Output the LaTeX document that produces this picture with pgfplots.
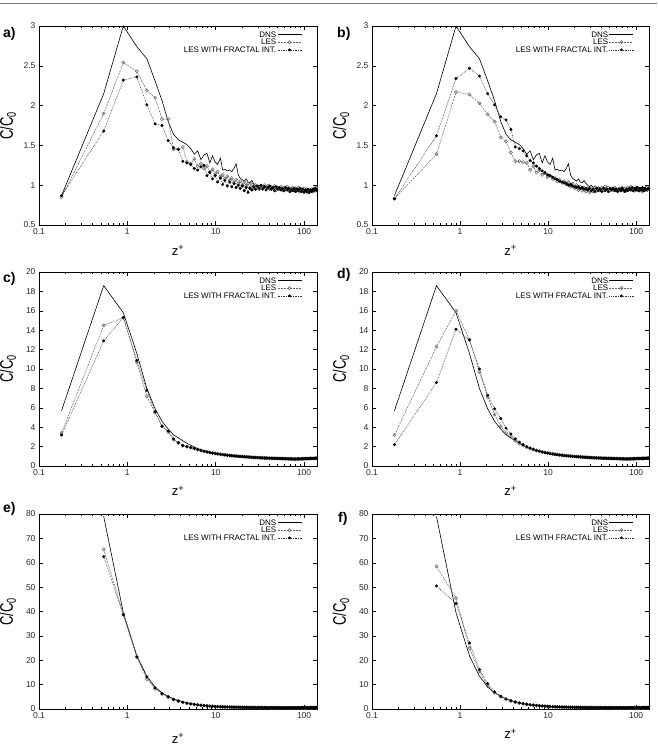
\documentclass[border=0pt]{standalone}
\usepackage{fontspec}
\setmainfont{Liberation Sans}
\usepackage{pgfplots}
\usepackage{pgfplotstable}
\pgfplotsset{compat=1.18}

% z+  DNS  LES(a)  fractal(a)  LES(b)  fractal(b)
\pgfplotstableread{
z dns lesa fraa lesb frab
0.18 0.87 0.85 0.87 0.83 0.83
0.54 2.15 1.90 1.68 1.39 1.62
0.90 3.00 2.54 2.32 2.17 2.34
1.28 2.74 2.43 2.36 2.14 2.47
1.66 2.59 2.19 2.01 2.03 2.37
2.06 2.31 2.10 1.77 1.89 2.15
2.47 2.06 1.83 1.75 1.80 2.01
2.90 1.80 1.83 1.56 1.60 1.86
3.33 1.64 1.45 1.47 1.55 1.82
3.78 1.57 1.45 1.45 1.41 1.70
4.24 1.54 1.48 1.30 1.30 1.48
4.72 1.51 1.29 1.28 1.30 1.46
5.21 1.46 1.27 1.26 1.29 1.43
5.72 1.39 1.33 1.21 1.28 1.37
6.25 1.43 1.24 1.19 1.19 1.31
6.80 1.32 1.27 1.23 1.24 1.28
7.37 1.38 1.21 1.25 1.16 1.24
7.96 1.40 1.24 1.12 1.19 1.21
8.57 1.28 1.17 1.16 1.13 1.18
9.20 1.37 1.20 1.08 1.15 1.16
9.86 1.29 1.14 1.12 1.10 1.13
10.5 1.26 1.17 1.04 1.12 1.12
11.3 1.34 1.11 1.09 1.08 1.10
12.0 1.19 1.13 1.01 1.09 1.08
12.7 1.20 1.08 1.06 1.05 1.07
13.5 1.18 1.11 0.99 1.07 1.05
14.4 1.19 1.06 1.04 1.03 1.04
15.2 1.17 1.09 0.98 1.05 1.03
16.1 1.21 1.04 1.02 1.01 1.02
17.0 1.27 1.07 0.97 1.04 1.00
18.0 1.13 1.02 1.00 0.98 1.01
18.9 1.09 1.05 0.96 1.02 0.99
20.0 1.07 1.00 0.99 0.96 0.98
21.0 1.05 1.04 0.93 1.00 0.97
22.1 1.08 0.99 0.97 0.94 0.98
23.2 1.04 1.02 0.91 0.98 0.96
24.4 1.03 0.97 0.96 0.93 0.97
25.6 1.06 1.01 0.94 0.97 0.95
26.9 1.02 0.96 0.98 0.92 0.96
28.2 1.00 1.00 0.95 0.96 0.94
29.6 0.98 0.98 0.99 0.91 0.96
31.0 1.00 0.95 0.96 0.95 0.93
32.5 0.97 0.99 1.00 0.92 0.95
34.0 0.99 0.97 0.95 0.97 0.92
35.6 0.96 1.00 0.98 0.93 0.96
37.2 0.98 0.96 0.94 0.96 0.93
38.9 0.97 0.99 0.97 0.94 0.95
40.7 0.95 0.95 0.99 0.97 0.92
42.5 0.98 0.98 0.95 0.94 0.96
44.4 0.96 0.96 0.97 0.98 0.93
46.3 0.97 0.99 0.93 0.95 0.95
48.3 0.95 0.94 0.98 0.97 0.92
50.4 0.97 0.97 0.95 0.93 0.96
52.5 0.95 0.95 0.97 0.96 0.94
54.7 0.96 0.98 0.94 0.94 0.96
57.0 0.94 0.94 0.96 0.97 0.93
59.3 0.96 0.97 0.93 0.95 0.95
61.7 0.95 0.95 0.97 0.93 0.92
64.2 0.96 0.98 0.94 0.96 0.95
66.7 0.94 0.93 0.96 0.94 0.93
69.3 0.95 0.96 0.92 0.97 0.96
72.0 0.93 0.94 0.95 0.93 0.94
74.8 0.95 0.97 0.93 0.96 0.92
77.6 0.94 0.93 0.96 0.94 0.95
80.5 0.95 0.96 0.92 0.97 0.93
83.5 0.93 0.94 0.95 0.95 0.96
86.6 0.95 0.97 0.93 0.98 0.94
89.8 0.94 0.92 0.96 0.94 0.97
93.0 0.93 0.95 0.92 0.96 0.93
96.3 0.95 0.93 0.95 0.93 0.96
99.7 0.94 0.96 0.91 0.97 0.94
103 0.93 0.92 0.94 0.94 0.97
107 0.94 0.95 0.92 0.96 0.93
110 0.93 0.91 0.95 0.93 0.96
114 0.94 0.94 0.91 0.95 0.94
118 0.92 0.92 0.94 0.92 0.97
122 0.94 0.95 0.92 0.96 0.93
126 0.93 0.92 0.95 0.94 0.96
130 0.94 0.96 0.93 0.97 0.94
134 0.93 0.93 0.96 0.94 0.95
138 0.95 0.97 0.94 0.96 0.96
}\tabAB

% z+  DNS  LES(c)  fractal(c)  LES(d)  fractal(d)
\pgfplotstableread{
z dns lesc frac lesd frad
0.18 5.7 3.4 3.2 3.2 2.2
0.54 18.6 14.5 12.9 12.3 8.6
0.90 15.8 15.3 15.3 16.0 14.1
1.28 11.6 10.7 10.9 13.0 13.0
1.66 8.0 7.2 7.8 9.7 10.0
2.06 5.9 5.5 5.6 7.1 7.3
2.47 4.6 4.1 4.1 5.3 5.9
2.90 3.8 3.5 3.6 4.1 4.9
3.33 3.2 2.7 2.8 3.4 3.9
3.78 2.9 2.4 2.4 3.0 3.3
4.24 2.6 2.1 2.1 2.6 2.8
4.72 2.35 2.0 2.0 2.3 2.45
5.21 2.15 1.9 1.9 2.1 2.2
5.72 1.95 1.8 1.8 1.95 2.0
6.25 1.8 1.7 1.7 1.8 1.85
6.80 1.7 1.6 1.62 1.7 1.72
7.37 1.6 1.5 1.53 1.6 1.6
7.96 1.52 1.46 1.44 1.52 1.53
8.57 1.45 1.39 1.38 1.45 1.44
9.20 1.4 1.35 1.33 1.39 1.38
9.86 1.35 1.3 1.28 1.35 1.33
10.5 1.3 1.26 1.24 1.3 1.28
11.3 1.26 1.22 1.2 1.25 1.24
12.0 1.22 1.18 1.17 1.21 1.2
12.7 1.18 1.15 1.14 1.18 1.16
13.5 1.15 1.12 1.11 1.15 1.13
14.4 1.12 1.09 1.08 1.12 1.1
15.2 1.1 1.07 1.06 1.09 1.08
16.1 1.07 1.05 1.04 1.07 1.05
17.0 1.05 1.03 1.02 1.05 1.03
18.0 1.03 1.01 1.0 1.03 1.01
18.9 1.01 0.99 0.98 1.01 0.99
20.0 0.99 0.97 0.97 0.99 0.97
21.0 0.97 0.96 0.95 0.97 0.96
22.1 0.95 0.94 0.94 0.96 0.94
23.2 0.94 0.93 0.92 0.94 0.93
24.4 0.92 0.91 0.91 0.93 0.91
25.6 0.91 0.90 0.90 0.91 0.90
26.9 0.90 0.89 0.88 0.90 0.89
28.2 0.89 0.88 0.87 0.89 0.88
29.6 0.88 0.86 0.87 0.88 0.86
31.0 0.87 0.86 0.85 0.87 0.86
32.5 0.86 0.84 0.85 0.86 0.84
34.0 0.85 0.84 0.83 0.85 0.84
35.6 0.84 0.82 0.83 0.84 0.82
37.2 0.84 0.83 0.81 0.83 0.83
38.9 0.83 0.81 0.82 0.83 0.81
40.7 0.82 0.81 0.80 0.82 0.81
42.5 0.82 0.79 0.81 0.81 0.79
44.4 0.81 0.80 0.79 0.81 0.80
46.3 0.80 0.78 0.79 0.80 0.78
48.3 0.80 0.79 0.77 0.80 0.79
50.4 0.79 0.77 0.78 0.79 0.77
52.5 0.79 0.78 0.76 0.78 0.78
54.7 0.78 0.76 0.77 0.78 0.76
57.0 0.78 0.77 0.75 0.77 0.77
59.3 0.77 0.75 0.76 0.77 0.75
61.7 0.77 0.76 0.74 0.76 0.76
64.2 0.76 0.74 0.75 0.76 0.74
66.7 0.76 0.75 0.73 0.75 0.75
69.3 0.75 0.73 0.74 0.75 0.73
72.0 0.75 0.74 0.72 0.74 0.74
74.8 0.74 0.72 0.73 0.74 0.72
77.6 0.74 0.73 0.71 0.74 0.73
80.5 0.74 0.71 0.73 0.74 0.72
83.5 0.74 0.73 0.72 0.74 0.74
86.6 0.74 0.72 0.74 0.75 0.73
89.8 0.75 0.74 0.73 0.75 0.75
93.0 0.75 0.73 0.75 0.75 0.74
96.3 0.75 0.75 0.74 0.76 0.76
99.7 0.76 0.74 0.76 0.76 0.75
103 0.76 0.76 0.75 0.77 0.77
107 0.77 0.75 0.77 0.77 0.76
110 0.77 0.77 0.76 0.78 0.78
114 0.78 0.76 0.78 0.78 0.77
118 0.78 0.78 0.77 0.79 0.79
122 0.79 0.77 0.79 0.79 0.78
126 0.79 0.79 0.78 0.80 0.80
130 0.80 0.78 0.80 0.80 0.79
134 0.80 0.80 0.79 0.81 0.81
138 0.80 0.79 0.81 0.81 0.80
}\tabCD

% z+  DNS  LES(e)  fractal(e)  LES(f)  fractal(f)
\pgfplotstableread{
z dns lese frae lesf fraf
0.54 79 65.5 62.5 58.5 50.5
0.90 39.5 39.0 38.6 45.5 43.3
1.28 21.8 21.5 21.3 25.0 27.1
1.66 13.5 12.3 13.2 15.3 16.2
2.06 9.0 8.3 8.7 9.4 10.4
2.47 6.6 6.2 6.3 6.7 7.0
2.90 5.2 4.8 5.0 5.1 5.2
3.33 4.2 3.8 4.0 4.0 4.1
3.78 3.5 3.2 3.3 3.3 3.4
4.24 3.0 2.7 2.8 2.8 2.9
4.72 2.6 2.3 2.4 2.4 2.5
5.21 2.3 2.1 2.1 2.1 2.2
5.72 2.0 1.85 1.9 1.9 1.95
6.25 1.8 1.7 1.7 1.7 1.75
6.80 1.6 1.5 1.55 1.55 1.6
7.37 1.45 1.4 1.4 1.4 1.45
7.96 1.35 1.3 1.3 1.3 1.35
8.57 1.25 1.2 1.2 1.2 1.25
9.20 1.15 1.1 1.1 1.1 1.15
9.86 1.08 1.03 1.03 1.03 1.07
10.5 1.0 0.97 0.97 0.97 1.0
11.3 0.95 0.92 0.92 0.92 0.95
12.0 0.91 0.88 0.88 0.88 0.9
12.7 0.87 0.85 0.85 0.85 0.87
13.5 0.84 0.82 0.82 0.82 0.84
14.4 0.81 0.79 0.79 0.79 0.81
15.2 0.78 0.77 0.77 0.77 0.78
16.1 0.76 0.75 0.75 0.75 0.76
17.0 0.74 0.73 0.73 0.73 0.74
18.0 0.72 0.71 0.71 0.71 0.72
18.9 0.70 0.70 0.70 0.70 0.70
20.0 0.68 0.68 0.68 0.68 0.68
21.0 0.67 0.67 0.67 0.67 0.67
22.1 0.66 0.66 0.66 0.66 0.66
23.2 0.65 0.65 0.65 0.65 0.65
24.4 0.64 0.64 0.64 0.64 0.64
25.6 0.63 0.63 0.63 0.63 0.63
26.9 0.62 0.62 0.62 0.62 0.62
28.2 0.61 0.61 0.61 0.61 0.61
29.6 0.60 0.60 0.60 0.60 0.60
31.0 0.60 0.60 0.60 0.60 0.60
32.5 0.59 0.59 0.59 0.59 0.59
34.0 0.58 0.58 0.58 0.58 0.58
35.6 0.58 0.58 0.58 0.58 0.58
37.2 0.57 0.57 0.57 0.57 0.57
38.9 0.57 0.57 0.57 0.57 0.57
40.7 0.56 0.56 0.56 0.56 0.56
42.5 0.56 0.56 0.56 0.56 0.56
44.4 0.55 0.55 0.55 0.55 0.55
46.3 0.55 0.55 0.55 0.55 0.55
48.3 0.55 0.55 0.55 0.55 0.55
50.4 0.54 0.54 0.54 0.54 0.54
52.5 0.54 0.54 0.54 0.54 0.54
54.7 0.54 0.54 0.54 0.54 0.54
57.0 0.53 0.53 0.53 0.53 0.53
59.3 0.53 0.53 0.53 0.53 0.53
61.7 0.53 0.53 0.53 0.53 0.53
64.2 0.53 0.53 0.53 0.53 0.53
66.7 0.52 0.52 0.52 0.52 0.52
69.3 0.52 0.52 0.52 0.52 0.52
72.0 0.52 0.52 0.52 0.52 0.52
74.8 0.52 0.52 0.52 0.52 0.52
77.6 0.52 0.52 0.52 0.52 0.52
80.5 0.52 0.52 0.52 0.52 0.52
83.5 0.53 0.53 0.53 0.53 0.53
86.6 0.53 0.53 0.53 0.53 0.53
89.8 0.53 0.53 0.53 0.53 0.53
93.0 0.54 0.54 0.54 0.54 0.54
96.3 0.54 0.54 0.54 0.54 0.54
99.7 0.55 0.55 0.55 0.55 0.55
103 0.55 0.55 0.55 0.55 0.55
107 0.56 0.56 0.56 0.56 0.56
110 0.56 0.56 0.56 0.56 0.56
114 0.57 0.57 0.57 0.57 0.57
118 0.57 0.57 0.57 0.57 0.57
122 0.58 0.58 0.58 0.58 0.58
126 0.58 0.58 0.58 0.58 0.58
130 0.59 0.59 0.59 0.59 0.59
134 0.59 0.59 0.59 0.59 0.59
138 0.60 0.60 0.60 0.60 0.60
}\tabEF

% legend sample: a 24pt line with the mark in its middle
\pgfplotsset{
  legend image code/.code={%
    \draw[mark repeat=2, mark phase=2, #1] plot coordinates {(0pt,0pt) (12pt,0pt) (24pt,0pt)};},
}

% settings shared by all six axes
\pgfplotsset{every axis/.append style={
    scale only axis,
    xmin=0.1, xmax=140,
    xtick={0.1,1,10,100}, xticklabels={0.1,1,10,100},
    minor xtick={0.2,0.3,0.4,0.5,0.6,0.7,0.8,0.9,2,3,4,5,6,7,8,9,20,30,40,50,60,70,80,90},
    tick align=inside,
    major tick length=4pt, minor tick length=2.2pt,
    axis line style={black, line width=0.8pt},
    tick label style={font=\fontsize{8.5}{9}\selectfont, text=black!85},
    /pgf/number format/assume math mode=true,
  },
  every tick/.append style={black, line width=0.5pt},
  every axis x label/.style={at={(axis description cs:0.5,-0.127)}, anchor=center,
    font=\fontsize{13}{13}\selectfont},
  every axis y label/.style={at={(axis description cs:-0.112,0.5)}, anchor=center, rotate=90,
    yscale=1.4, font=\fontsize{13}{13}\selectfont},
  every axis legend/.style={draw=none, fill=none, at={(1,1)}, anchor=north east,
    xshift=-14pt, yshift=-3.5pt, font=\fontsize{8}{8}\selectfont,
    row sep=0pt, inner sep=1pt,
    /tikz/every even column/.append style={column sep=3pt}},
  legend cell align=right,
  legend plot pos=right,
  dns/.style={black, line width=0.6pt, solid, mark=none},
  les/.style={black!60, line width=0.5pt, dash pattern=on 2pt off 1pt,
    mark=o, mark size=1.6pt, mark options={solid, draw=black!60, line width=0.5pt}},
  fra/.style={black!80, line width=0.5pt, dash pattern=on 0.8pt off 0.9pt,
    mark=*, mark size=1.25pt, mark options={solid, black}},
}

\begin{document}
\begin{tikzpicture}
\path[use as bounding box] (0pt,0pt) rectangle (657pt,745pt);
\draw[black!55, line width=0.9pt] (0pt,742pt) -- (657pt,742pt);

% ---- row 1 ----
\begin{semilogxaxis}[at={(39pt,520pt)}, anchor=south west, width=278pt, height=199pt,
  ymin=0.5, ymax=3, ytick={0.5,1,1.5,2,2.5,3},
  xlabel={z\textsuperscript{+}}, ylabel={C/C\textsubscript{0}}]
  \addplot[dns] table[x=z, y=dns] {\tabAB}; \addlegendentry{DNS}
  \addplot[les] table[x=z, y=lesa] {\tabAB}; \addlegendentry{LES}
  \addplot[fra] table[x=z, y=fraa] {\tabAB}; \addlegendentry{LES WITH FRACTAL INT.}
\end{semilogxaxis}
\begin{semilogxaxis}[at={(372pt,520pt)}, anchor=south west, width=277pt, height=199pt,
  ymin=0.5, ymax=3, ytick={0.5,1,1.5,2,2.5,3},
  xlabel={z\textsuperscript{+}}, ylabel={C/C\textsubscript{0}}]
  \addplot[dns] table[x=z, y=dns] {\tabAB}; \addlegendentry{DNS}
  \addplot[les] table[x=z, y=lesb] {\tabAB}; \addlegendentry{LES}
  \addplot[fra] table[x=z, y=frab] {\tabAB}; \addlegendentry{LES WITH FRACTAL INT.}
\end{semilogxaxis}

% ---- row 2 ----
\begin{semilogxaxis}[at={(39pt,279pt)}, anchor=south west, width=278pt, height=194pt,
  ymin=0, ymax=20, ytick={0,2,...,20},
  xlabel={z\textsuperscript{+}}, ylabel={C/C\textsubscript{0}}]
  \addplot[dns] table[x=z, y=dns] {\tabCD}; \addlegendentry{DNS}
  \addplot[les] table[x=z, y=lesc] {\tabCD}; \addlegendentry{LES}
  \addplot[fra] table[x=z, y=frac] {\tabCD}; \addlegendentry{LES WITH FRACTAL INT.}
\end{semilogxaxis}
\begin{semilogxaxis}[at={(372pt,279pt)}, anchor=south west, width=277pt, height=194pt,
  ymin=0, ymax=20, ytick={0,2,...,20},
  xlabel={z\textsuperscript{+}}, ylabel={C/C\textsubscript{0}}]
  \addplot[dns] table[x=z, y=dns] {\tabCD}; \addlegendentry{DNS}
  \addplot[les] table[x=z, y=lesd] {\tabCD}; \addlegendentry{LES}
  \addplot[fra] table[x=z, y=frad] {\tabCD}; \addlegendentry{LES WITH FRACTAL INT.}
\end{semilogxaxis}

% ---- row 3 ----
\begin{semilogxaxis}[at={(39pt,36pt)}, anchor=south west, width=278pt, height=195pt,
  ymin=0, ymax=80, ytick={0,10,...,80},
  xlabel={z\textsuperscript{+}}, ylabel={C/C\textsubscript{0}},
  xlabel style={at={(axis description cs:0.5,-0.15)}}]
  \addplot[dns] table[x=z, y=dns] {\tabEF}; \addlegendentry{DNS}
  \addplot[les] table[x=z, y=lese] {\tabEF}; \addlegendentry{LES}
  \addplot[fra] table[x=z, y=frae] {\tabEF}; \addlegendentry{LES WITH FRACTAL INT.}
\end{semilogxaxis}
\begin{semilogxaxis}[at={(372pt,36pt)}, anchor=south west, width=277pt, height=195pt,
  ymin=0, ymax=80, ytick={0,10,...,80},
  xlabel={z\textsuperscript{+}}, ylabel={C/C\textsubscript{0}}]
  \addplot[dns] table[x=z, y=dns] {\tabEF}; \addlegendentry{DNS}
  \addplot[les] table[x=z, y=lesf] {\tabEF}; \addlegendentry{LES}
  \addplot[fra] table[x=z, y=fraf] {\tabEF}; \addlegendentry{LES WITH FRACTAL INT.}
\end{semilogxaxis}

% panel letters
\begin{scope}[every node/.style={anchor=north west, inner sep=0pt,
    font=\bfseries\fontsize{14}{14}\selectfont}]
  \node at (3pt,718pt) {a)};
  \node at (337pt,718pt) {b)};
  \node at (3pt,473pt) {c)};
  \node at (337pt,477pt) {d)};
  \node at (3pt,243pt) {e)};
  \node at (338pt,233pt) {f)};
\end{scope}
\end{tikzpicture}
\end{document}
